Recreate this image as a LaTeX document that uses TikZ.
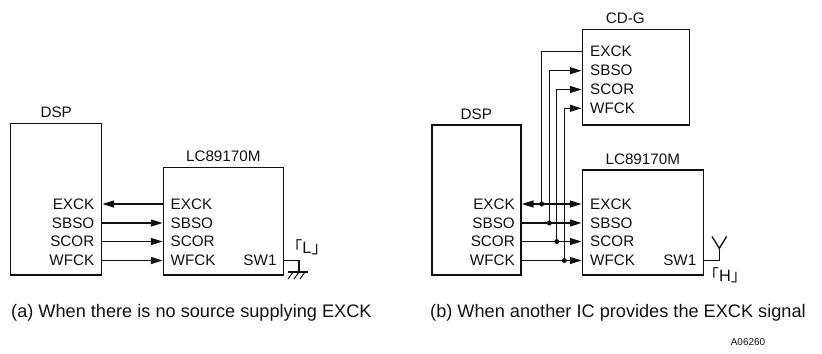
\documentclass[tikz,border=0pt]{standalone}
\usepackage{fontspec}
\setmainfont{Liberation Sans}
\newfontfamily\cjk{Noto Sans CJK JP}
\usetikzlibrary{arrows.meta,positioning}
\definecolor{ink}{HTML}{111111}

\begin{document}
\begin{tikzpicture}[
  x=0.03cm, y=-0.03cm,
  text=ink,
  chip/.style={draw=ink, line width=1.3pt, inner sep=0pt},
  title/.style={font=\fontsize{13}{15}\selectfont, inner sep=1pt},
  sig/.style={font=\fontsize{13}{15}\selectfont, inner sep=0pt},
  wire/.style={draw=ink, line width=1.15pt},
  arrow/.style={-{Triangle[length=10pt,width=6pt]}, draw=ink, line width=1.15pt},
  caption/.style={font=\fontsize{15.5}{18}\selectfont, anchor=west, inner sep=0pt}
]
  \useasboundingbox (0,0) rectangle (822,353);
  % (a) no EXCK source
  \node[chip, minimum width=2.73cm, minimum height=4.55cm] (aDsp) at (56.2,199.2) {};
  \node[chip, minimum width=3.6cm, minimum height=3.22cm] (aLc) at (223.3,221.3) {};
  \node[title, above=3pt of aDsp] {DSP};
  \node[title, above=3pt of aLc] {LC89170M};
  \node[sig, anchor=east] (aDspExck) at (94.5,204) {EXCK};
  \node[sig, anchor=east] (aDspSbso) at (94.5,223) {SBSO};
  \node[sig, anchor=east] (aDspScor) at (94.5,241.5) {SCOR};
  \node[sig, anchor=east] (aDspWfck) at (94.5,260.5) {WFCK};
  \node[sig, anchor=west] (aLcExck) at (170.5,204) {EXCK};
  \node[sig, anchor=west] (aLcSbso) at (170.5,223) {SBSO};
  \node[sig, anchor=west] (aLcScor) at (170.5,241.5) {SCOR};
  \node[sig, anchor=west] (aLcWfck) at (170.5,260.5) {WFCK};
  \node[sig, anchor=east] (aLcSw) at (276.7,260.5) {SW1};
  \draw[arrow] (aLc.west |- aLcExck) -- (aDsp.east |- aDspExck);
  \draw[arrow] (aDsp.east |- aDspSbso) -- (aLc.west |- aLcSbso);
  \draw[arrow] (aDsp.east |- aDspScor) -- (aLc.west |- aLcScor);
  \draw[arrow] (aDsp.east |- aDspWfck) -- (aLc.west |- aLcWfck);
  \coordinate (aGnd) at (299,272);
  \draw[wire] (aLc.east |- aLcSw) -| (aGnd);
  \draw[wire] ([xshift=-9] aGnd) -- ([xshift=8] aGnd);
  \draw[wire, line width=.8pt] (293,272) -- (288,279) (299,272) -- (294,279) (305,272) -- (300,279);
  \node[sig, font=\fontsize{14}{16}\selectfont] (aLevel) at (307,247) {{\cjk ｢}L{\cjk ｣}};

  % (b) EXCK from another IC
  \node[chip, minimum width=2.68cm, minimum height=4.5cm] (bDsp) at (476.4,200) {};
  \node[chip, minimum width=3.63cm, minimum height=3.15cm] (bLc) at (642.8,222.5) {};
  \node[chip, minimum width=3.21cm, minimum height=2.87cm] (bCdg) at (635.8,77.2) {};
  \node[title, above=3pt of bDsp] {DSP};
  \node[title, above=3pt of bLc] {LC89170M};
  \node[title, above=3pt of bCdg, xshift=-9] {CD-G};
  \node[sig, anchor=east] (bDspExck) at (515,204) {EXCK};
  \node[sig, anchor=east] (bDspSbso) at (515,223) {SBSO};
  \node[sig, anchor=east] (bDspScor) at (515,241.5) {SCOR};
  \node[sig, anchor=east] (bDspWfck) at (515,260.5) {WFCK};
  \node[sig, anchor=west] (bLcExck) at (590,204) {EXCK};
  \node[sig, anchor=west] (bLcSbso) at (590,223) {SBSO};
  \node[sig, anchor=west] (bLcScor) at (590,241.5) {SCOR};
  \node[sig, anchor=west] (bLcWfck) at (590,260.5) {WFCK};
  \node[sig, anchor=east] (bLcSw) at (696.5,260.5) {SW1};
  \node[sig, anchor=west] (bCdgExck) at (590,51.7) {EXCK};
  \node[sig, anchor=west] (bCdgSbso) at (590,70.7) {SBSO};
  \node[sig, anchor=west] (bCdgScor) at (590,89.5) {SCOR};
  \node[sig, anchor=west] (bCdgWfck) at (590,108.3) {WFCK};
  \coordinate (bTapExck) at (541.7,204);
  \coordinate (bTapSbso) at (549.3,223);
  \coordinate (bTapScor) at (556.8,241.5);
  \coordinate (bTapWfck) at (564.3,260.5);
  \draw[wire] (bCdg.west |- bCdgExck) -| (bTapExck);
  \draw[arrow] (bTapExck) -- (bDsp.east |- bDspExck);
  \draw[arrow] (bTapExck) -- (bLc.west |- bLcExck);
  \draw[arrow] (bDsp.east |- bDspSbso) -- (bLc.west |- bLcSbso);
  \draw[arrow] (bDsp.east |- bDspScor) -- (bLc.west |- bLcScor);
  \draw[arrow] (bDsp.east |- bDspWfck) -- (bLc.west |- bLcWfck);
  \draw[arrow] (bTapSbso) |- (bCdg.west |- bCdgSbso);
  \draw[arrow] (bTapScor) |- (bCdg.west |- bCdgScor);
  \draw[arrow] (bTapWfck) |- (bCdg.west |- bCdgWfck);
  \fill[ink] (bTapExck) circle (2.5) (bTapSbso) circle (2.5)
    (bTapScor) circle (2.5) (bTapWfck) circle (2.5);
  \coordinate (bVdd) at (719.3,248.3);
  \draw[wire] (bLc.east |- bLcSw) -| (bVdd);
  \draw[wire] (712,236.5) -- (bVdd) -- (726.6,236.5);
  \node[sig, font=\fontsize{14}{16}\selectfont] (bLevel) at (725,275) {{\cjk ｢}H{\cjk ｣}};

  \node[caption] (aCaption) at (11,312.5) {(a) When there is no source supplying EXCK};
  \node[caption] (bCaption) at (430,312.5) {(b) When another IC provides the EXCK signal};
  \node[font=\fontsize{8.5}{10}\selectfont, inner sep=0pt] (figId) at (748,342) {A06260};
\end{tikzpicture}
\end{document}
